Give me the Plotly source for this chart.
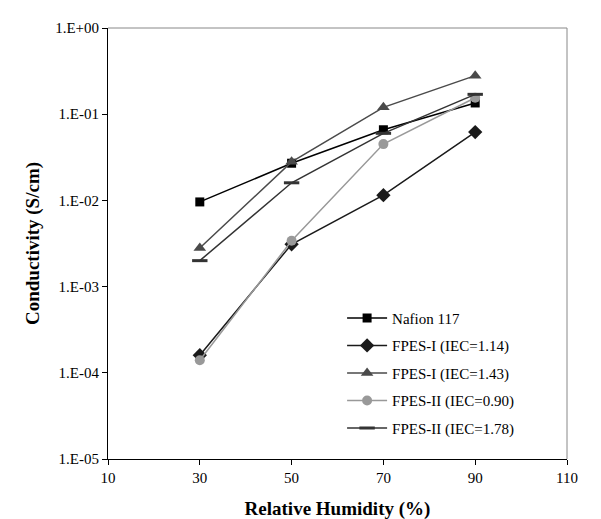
import plotly.graph_objects as go

rh = [30, 50, 70, 90]
nafion = [0.0096, 0.027, 0.066, 0.135]
fpes1_114 = [0.00016, 0.0031, 0.0115, 0.062]
fpes1_143 = [0.0028, 0.028, 0.12, 0.28]
fpes2_090 = [0.00014, 0.0034, 0.045, 0.155]
fpes2_178 = [0.0020, 0.016, 0.060, 0.17]

ytick_vals = [1e-5, 1e-4, 1e-3, 1e-2, 1e-1, 1]
ytick_text = ["1.E-05", "1.E-04", "1.E-03", "1.E-02", "1.E-01", "1.E+00"]
xtick_vals = [10, 30, 50, 70, 90, 110]

font = "Liberation Serif, Times New Roman, serif"

fig = go.Figure()

series = [
    ("Nafion 117", nafion, "#000000", "square", 9, None),
    ("FPES-I (IEC=1.14)", fpes1_114, "#1a1a1a", "diamond", 11, None),
    ("FPES-I (IEC=1.43)", fpes1_143, "#4a4a4a", "triangle-up", 11, None),
    ("FPES-II (IEC=0.90)", fpes2_090, "#999999", "circle", 10, None),
    ("FPES-II (IEC=1.78)", fpes2_178, "#333333", "line-ew", 11, 3),
]
for i, (name, ys, color, sym, size, lw) in enumerate(series):
    marker = dict(symbol=sym, size=size, color=color)
    if lw:
        marker["line"] = dict(color=color, width=lw)
    else:
        marker["line"] = dict(width=0)
    fig.add_trace(go.Scatter(x=rh, y=ys, name=name, mode="lines+markers",
                             legendgroup=f"g{i}",
                             line=dict(color=color, width=1.5), marker=marker))

fig.update_layout(
    width=601, height=519,
    margin=dict(l=100, r=42, t=20, b=64),
    paper_bgcolor="white", plot_bgcolor="white",
    font=dict(family=font, size=15, color="black"),
    showlegend=True,
    legend=dict(x=0.51, y=0.365, xanchor="left", yanchor="top",
                bgcolor="rgba(0,0,0,0)", font=dict(family=font, size=15),
                tracegroupgap=5, itemwidth=40),
    xaxis=dict(range=[10, 110], tickvals=xtick_vals, showgrid=False, zeroline=False,
               showline=True, linecolor="black", linewidth=1,
               ticks="outside", ticklen=5, tickcolor="black",
               tickfont=dict(size=15),
               title=dict(text="<b>Relative Humidity (%)</b>", font=dict(size=19, family=font), standoff=16)),
    yaxis=dict(type="log", range=[-5, 0], tickvals=ytick_vals, ticktext=ytick_text,
               showgrid=False, zeroline=False, showline=True, linecolor="black", linewidth=1,
               ticks="outside", ticklen=5, tickcolor="black",
               tickfont=dict(size=15),
               title=dict(text="<b>Conductivity (S/cm)</b>", font=dict(size=19, family=font), standoff=10)),
    shapes=[
        dict(type="line", xref="paper", yref="paper", x0=0, x1=1, y0=1, y1=1,
             line=dict(color="#888888", width=1)),
        dict(type="line", xref="paper", yref="paper", x0=1, x1=1, y0=0, y1=1,
             line=dict(color="#888888", width=1)),
    ],
)

fig.write_html("out.html")
